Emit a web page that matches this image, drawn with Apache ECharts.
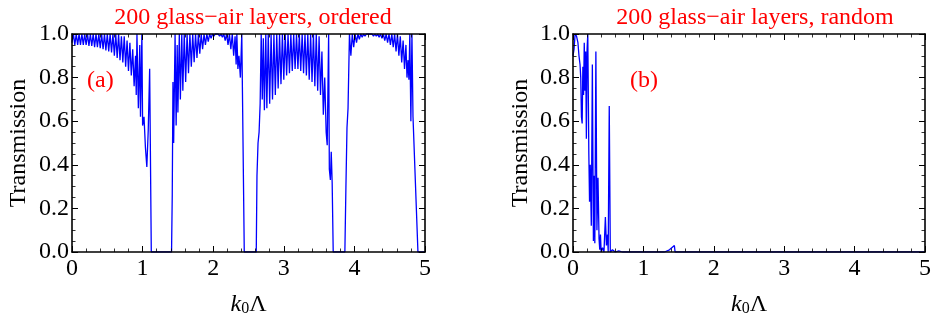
<!DOCTYPE html>
<html><head><meta charset="utf-8">
<script src="https://cdn.jsdelivr.net/npm/echarts@6/dist/echarts.min.js"></script>
<style>html,body{margin:0;padding:0;background:#fff}#c{width:934px;height:322px}</style>
</head><body><div id="c"></div>
<script>
const titles = ['200 glass\u2212air layers, ordered', '200 glass\u2212air layers, random'];
const panelTags = ['(a)', '(b)'];
const xTicks = [0, 1, 2, 3, 4, 5];
const yTicks = ['0.0', '0.2', '0.4', '0.6', '0.8', '1.0'];

const ordered = [
[0.00,0.96],[0.02,1.00],[0.04,0.95],[0.06,1.00],[0.08,0.95],[0.10,1.00],[0.12,0.95],[0.14,1.00],[0.16,0.95],[0.18,1.00],[0.20,0.95],[0.22,1.00],[0.24,0.945],[0.26,1.00],[0.28,0.945],[0.30,1.00],[0.32,0.94],[0.34,1.00],[0.36,0.94],[0.38,1.00],[0.40,0.935],[0.42,1.00],[0.44,0.93],[0.46,1.00],[0.48,0.925],[0.50,1.00],[0.52,0.92],[0.54,1.00],[0.56,0.915],[0.58,1.00],[0.60,0.90],[0.62,1.00],[0.64,0.89],[0.66,1.00],[0.68,0.88],[0.70,0.99],[0.72,0.87],[0.74,0.99],[0.76,0.85],[0.78,0.97],[0.80,0.83],[0.82,0.96],[0.84,0.81],[0.86,0.93],[0.88,0.76],[0.90,0.90],[0.91,0.72],[0.92,1.00],[0.94,0.66],[0.96,0.95],[0.97,0.62],[0.99,1.00],[1.00,0.58],[1.02,0.62],[1.04,0.48],[1.06,0.39],[1.08,0.56],[1.10,0.84],[1.123,0.00],
[1.41,0.00],[1.42,0.26],[1.43,0.78],[1.44,0.50],[1.46,1.00],[1.475,0.58],[1.49,0.95],[1.50,0.64],[1.52,1.00],[1.535,0.70],[1.555,1.00],[1.57,0.74],[1.59,1.00],[1.61,0.78],[1.63,1.00],[1.65,0.82],[1.67,1.00],[1.69,0.85],[1.71,1.00],[1.73,0.87],[1.75,1.00],[1.77,0.89],[1.79,1.00],[1.81,0.91],[1.83,1.00],[1.85,0.93],[1.87,1.00],[1.89,0.95],[1.91,1.00],[1.93,0.965],[1.95,1.00],[1.97,0.98],[1.99,1.00],[2.01,0.99],[2.03,1.00],[2.05,0.995],[2.07,1.00],[2.09,0.99],[2.11,1.00],[2.13,0.985],[2.15,1.00],[2.17,0.97],[2.19,1.00],[2.21,0.95],[2.23,1.00],[2.25,0.93],[2.27,1.00],[2.29,0.90],[2.31,0.99],[2.325,0.86],[2.335,1.00],[2.35,0.84],[2.365,0.90],[2.385,0.80],[2.405,1.00],[2.44,0.00],
[2.61,0.00],[2.62,0.35],[2.635,0.50],[2.65,0.55],[2.665,0.68],[2.68,1.00],[2.695,0.70],[2.71,0.98],[2.725,0.65],[2.745,1.00],[2.76,0.66],[2.78,1.00],[2.80,0.68],[2.82,1.00],[2.84,0.70],[2.86,1.00],[2.88,0.72],[2.90,1.00],[2.92,0.75],[2.94,1.00],[2.96,0.77],[2.98,1.00],[3.00,0.79],[3.02,1.00],[3.04,0.81],[3.06,1.00],[3.08,0.82],[3.10,1.00],[3.12,0.83],[3.14,1.00],[3.16,0.84],[3.18,1.00],[3.20,0.84],[3.22,1.00],[3.24,0.83],[3.26,1.00],[3.28,0.82],[3.30,1.00],[3.32,0.81],[3.34,1.00],[3.36,0.79],[3.38,1.00],[3.40,0.78],[3.42,1.00],[3.44,0.76],[3.46,1.00],[3.48,0.74],[3.50,0.99],[3.52,0.72],[3.54,0.92],[3.56,0.63],[3.58,0.80],[3.60,0.55],[3.615,0.49],[3.635,1.00],[3.645,0.38],[3.66,0.33],[3.672,0.46],[3.685,0.32],[3.70,0.00],
[3.865,0.00],[3.88,0.30],[3.895,0.57],[3.91,0.66],[3.93,1.00],[3.95,0.90],[3.97,1.00],[3.99,0.94],[4.01,1.00],[4.03,0.96],[4.05,1.00],[4.07,0.975],[4.09,1.00],[4.11,0.985],[4.13,1.00],[4.15,0.99],[4.17,1.00],[4.19,0.995],[4.21,1.00],[4.23,0.995],[4.25,1.00],[4.27,0.99],[4.29,1.00],[4.31,0.99],[4.33,1.00],[4.35,0.985],[4.37,1.00],[4.39,0.98],[4.41,1.00],[4.43,0.97],[4.45,1.00],[4.47,0.96],[4.49,1.00],[4.51,0.95],[4.53,1.00],[4.55,0.94],[4.57,1.00],[4.59,0.92],[4.61,1.00],[4.63,0.90],[4.65,0.99],[4.67,0.87],[4.69,0.97],[4.71,0.84],[4.73,0.95],[4.745,0.80],[4.76,0.88],[4.772,0.79],[4.785,1.00],[4.80,0.60],[4.815,1.00],[4.83,0.62],[4.90,0.00],[5.00,0.00]
];

const random = [
[0.00,0.90],[0.015,0.93],[0.03,1.00],[0.05,0.99],[0.07,0.96],[0.085,0.90],[0.10,0.86],[0.11,0.80],[0.12,0.62],[0.13,0.59],[0.14,0.85],[0.15,0.72],[0.16,0.96],[0.17,0.74],[0.18,0.92],[0.19,0.52],[0.20,0.93],[0.21,1.00],[0.225,0.45],[0.235,0.23],[0.245,0.40],[0.26,0.12],[0.275,0.86],[0.29,0.05],[0.30,0.35],[0.31,0.04],[0.325,0.92],[0.34,0.10],[0.355,0.34],[0.37,0.06],[0.38,0.01],[0.39,0.08],[0.40,0.00],[0.42,0.02],[0.44,0.00],[0.46,0.16],[0.475,0.03],[0.49,0.08],[0.50,0.00],[0.515,0.67],[0.53,0.00],[0.56,0.01],[0.60,0.00],[0.65,0.005],[0.70,0.00],[1.30,0.00],[1.37,0.01],[1.44,0.03],[1.45,0.00],[5.00,0.00]
];

const FONT = 'Liberation Serif';
const FS = 24;
const chart = echarts.init(document.getElementById('c'), null, {renderer: 'canvas'});
const grids = [
  {left: 72, right: 509, top: 34, bottom: 69},
  {left: 573, right: 7, top: 34, bottom: 69}
];
const xAxes = [], yAxes = [];
grids.forEach((g, i) => {
  const base = {
    gridIndex: i, type: 'value', min: 0, max: 5, interval: 1, zlevel: 1, z: 10,
    axisLine: {show: true, onZero: false, lineStyle: {color: '#000', width: 1.6}},
    axisTick: {show: true, inside: true, length: 6, lineStyle: {color: '#000', width: 1}},
    minorTick: {show: true, splitNumber: 5, length: 3.5, lineStyle: {color: '#000', width: 0.8}},
    splitLine: {show: false}
  };
  xAxes.push(Object.assign({}, base, {
    position: 'bottom',
    axisLabel: {show: true, color: '#000', fontFamily: FONT, fontSize: FS, margin: 5,
      formatter: v => String(xTicks[Math.round(v)])},
    name: '{k|k}{s|0}{L|\u039b}', nameLocation: 'middle', nameGap: 40,
    nameTextStyle: {rich: {
      k: {fontFamily: FONT, fontStyle: 'italic', fontSize: FS, color: '#000'},
      s: {fontFamily: FONT, fontSize: 16, color: '#000', padding: [9, 0, 0, 0]},
      L: {fontFamily: FONT, fontSize: FS, color: '#000'}
    }}
  }));
  xAxes.push(Object.assign({}, base, {position: 'top', axisLabel: {show: false}}));
  const ybase = Object.assign({}, base, {min: 0, max: 1, interval: 0.2,
    minorTick: {show: true, splitNumber: 4, length: 3.5, lineStyle: {color: '#000', width: 0.8}}});
  yAxes.push(Object.assign({}, ybase, {
    position: 'left',
    axisLabel: {show: true, color: '#000', fontFamily: FONT, fontSize: FS, margin: 3,
      formatter: v => yTicks[Math.round(v * 5)]},
    name: 'Transmission', nameLocation: 'middle', nameGap: i === 0 ? 41 : 40, nameRotate: 90,
    nameTextStyle: {fontFamily: FONT, fontSize: FS, color: '#000'}
  }));
  yAxes.push(Object.assign({}, ybase, {position: 'right', axisLabel: {show: false}}));
});

chart.setOption({
  animation: false,
  backgroundColor: '#fff',
  title: [
    {text: titles[0], left: 248, top: 1, textAlign: 'center',
     textStyle: {fontFamily: FONT, fontSize: FS, fontWeight: 'normal', color: '#ff0000'}},
    {text: titles[1], left: 750, top: 1, textAlign: 'center',
     textStyle: {fontFamily: FONT, fontSize: FS, fontWeight: 'normal', color: '#ff0000'}}
  ],
  graphic: [
    {type: 'text', left: 87, top: 69, style: {text: panelTags[0], font: FS + 'px "Liberation Serif"', fill: '#ff0000'}},
    {type: 'text', left: 630, top: 69, style: {text: panelTags[1], font: FS + 'px "Liberation Serif"', fill: '#ff0000'}}
  ],
  grid: grids,
  xAxis: xAxes,
  yAxis: yAxes,
  series: [
    {type: 'line', xAxisIndex: 0, yAxisIndex: 0, data: ordered, showSymbol: false, z: 2,
     lineStyle: {color: '#0000ff', width: 1.3}, clip: true},
    {type: 'line', xAxisIndex: 2, yAxisIndex: 2, data: random, showSymbol: false, z: 2,
     lineStyle: {color: '#0000ff', width: 1.3}, clip: true}
  ]
});
</script></body></html>
